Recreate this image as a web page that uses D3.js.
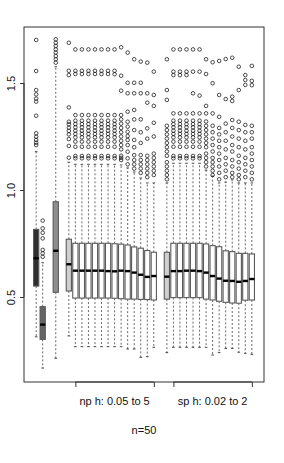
<!DOCTYPE html>
<html>
<head>
<meta charset="utf-8">
<script src="https://cdn.jsdelivr.net/npm/d3@7"></script>
<style>
  html, body { margin: 0; padding: 0; background: #fff; }
  svg { display: block; font-family: "Liberation Sans", Arial, Helvetica, sans-serif; }
</style>
</head>
<body>
<svg id="chart" width="284" height="463"></svg>
<script>
// ---- data ----
const slots = [1, 2, 4, 6, 7, 8, 9, 10, 11, 12, 13, 14, 15, 16, 17, 18, 19,
               21, 22, 23, 24, 25, 26, 27, 28, 29, 30, 31, 32, 33, 34];
const fillGroup = ["a", "b", "c", "d", "w", "w", "w", "w", "w", "w", "w", "w", "w", "w", "w", "w", "w",
                   "d", "w", "w", "w", "w", "w", "w", "w", "w", "w", "w", "w", "w", "w"];
const whiskerLow = [0.314, 0.168, 0.214, 0.318, 0.268, 0.268, 0.268, 0.268, 0.268, 0.268, 0.268, 0.268, 0.257, 0.257, 0.218, 0.221, 0.265,
                    0.240, 0.265, 0.265, 0.265, 0.265, 0.265, 0.265, 0.229, 0.240, 0.260, 0.260, 0.242, 0.237, 0.232];
const q1 = [0.551, 0.302, 0.522, 0.528, 0.495, 0.495, 0.495, 0.495, 0.495, 0.495, 0.494, 0.492, 0.490, 0.490, 0.489, 0.488, 0.486,
            0.490, 0.497, 0.497, 0.497, 0.497, 0.497, 0.490, 0.486, 0.480, 0.475, 0.472, 0.471, 0.485, 0.486];
const median = [0.681, 0.371, 0.716, 0.653, 0.623, 0.623, 0.623, 0.623, 0.623, 0.621, 0.620, 0.623, 0.621, 0.614, 0.604, 0.594, 0.598,
                0.595, 0.621, 0.621, 0.623, 0.623, 0.621, 0.614, 0.598, 0.586, 0.576, 0.575, 0.571, 0.575, 0.584];
const q3 = [0.816, 0.455, 0.945, 0.770, 0.751, 0.751, 0.751, 0.751, 0.751, 0.751, 0.749, 0.747, 0.743, 0.734, 0.728, 0.717, 0.709,
            0.709, 0.751, 0.751, 0.751, 0.751, 0.751, 0.748, 0.740, 0.735, 0.716, 0.712, 0.704, 0.704, 0.701];
const whiskerHigh = [1.179, 0.660, 1.576, 1.130, 1.120, 1.120, 1.120, 1.120, 1.120, 1.120, 1.120, 1.117, 1.103, 1.084, 1.056, 1.033, 1.033,
                     1.033, 1.125, 1.125, 1.125, 1.125, 1.125, 1.093, 1.065, 1.033, 1.037, 1.047, 1.033, 1.033, 1.033];
const npCluster = [1.657, 1.557, 1.542, 1.350, 1.324, 1.308, 1.293, 1.277, 1.262, 1.246, 1.226, 1.202, 1.159, 1.148];
const outliers = [
  [1.701, 1.556, 1.467, 1.447, 1.427, 1.413, 1.347, 1.265, 1.249, 1.234, 1.221, 1.210],
  [0.857, 0.821, 0.800, 0.774, 0.720, 0.704, 0.688],
  [1.704, 1.688, 1.673, 1.657, 1.642, 1.626, 1.611, 1.595],
  [1.688, 1.557, 1.537, 1.386, 1.319, 1.307, 1.291, 1.276, 1.260, 1.238, 1.206, 1.151],
  npCluster, npCluster, npCluster, npCluster, npCluster, npCluster,
  [1.657, 1.557, 1.541, 1.350, 1.324, 1.308, 1.293, 1.277, 1.262, 1.246, 1.226, 1.202, 1.159, 1.148],
  [1.667, 1.534, 1.464, 1.350, 1.330, 1.310, 1.290, 1.270, 1.250, 1.230, 1.210, 1.190, 1.160, 1.150, 1.140],
  [1.642, 1.501, 1.452, 1.366, 1.319, 1.296, 1.272, 1.252, 1.234, 1.210, 1.179, 1.148, 1.120],
  [1.611, 1.501, 1.452, 1.374, 1.330, 1.280, 1.234, 1.200, 1.163, 1.140, 1.120, 1.100],
  [1.600, 1.501, 1.452, 1.330, 1.270, 1.220, 1.163, 1.140, 1.120, 1.100, 1.080],
  [1.595, 1.452, 1.408, 1.288, 1.240, 1.160, 1.140, 1.120, 1.100, 1.080, 1.060],
  [1.553, 1.444, 1.393, 1.314, 1.250, 1.170, 1.150, 1.130, 1.110, 1.090, 1.070],
  [1.611, 1.467, 1.421, 1.300, 1.280, 1.260, 1.240, 1.220, 1.200, 1.180, 1.160, 1.130, 1.110, 1.090, 1.070, 1.050],
  [1.657, 1.553, 1.537, 1.358, 1.324, 1.308, 1.293, 1.277, 1.262, 1.246, 1.226, 1.202, 1.159, 1.148],
  [1.657, 1.553, 1.537, 1.358, 1.324, 1.308, 1.293, 1.277, 1.262, 1.246, 1.226, 1.202, 1.159, 1.148],
  [1.657, 1.553, 1.537, 1.358, 1.324, 1.308, 1.293, 1.277, 1.262, 1.246, 1.226, 1.202, 1.159, 1.148],
  [1.657, 1.553, 1.452, 1.358, 1.324, 1.308, 1.293, 1.277, 1.262, 1.246, 1.226, 1.202, 1.159, 1.148],
  [1.657, 1.553, 1.441, 1.358, 1.324, 1.308, 1.293, 1.277, 1.262, 1.246, 1.226, 1.202, 1.159, 1.148],
  [1.611, 1.542, 1.393, 1.358, 1.320, 1.300, 1.280, 1.260, 1.240, 1.220, 1.200, 1.170, 1.150, 1.130, 1.110],
  [1.597, 1.499, 1.358, 1.300, 1.270, 1.240, 1.210, 1.180, 1.150, 1.130, 1.110, 1.090, 1.070],
  [1.603, 1.444, 1.342, 1.290, 1.260, 1.230, 1.200, 1.170, 1.140, 1.110, 1.080, 1.050],
  [1.612, 1.425, 1.310, 1.270, 1.230, 1.190, 1.150, 1.120, 1.090, 1.060],
  [1.618, 1.436, 1.416, 1.327, 1.290, 1.250, 1.210, 1.180, 1.140, 1.110, 1.080, 1.060],
  [1.576, 1.467, 1.319, 1.280, 1.240, 1.200, 1.160, 1.130, 1.100, 1.070, 1.050],
  [1.537, 1.514, 1.491, 1.304, 1.270, 1.230, 1.190, 1.150, 1.120, 1.090, 1.060],
  [1.580, 1.510, 1.490, 1.300, 1.270, 1.240, 1.200, 1.170, 1.140, 1.110, 1.080, 1.050]
];
const yTicks = [0.5, 1.0, 1.5];
const groupLabels = ["np h: 0.05 to 5", "sp h: 0.02 to 2"];
const groupFrom = [7, 22];
const groupTo = [19, 34];
const subtitle = "n=50";

// ---- layout ----
const svg = d3.select("#chart");
const plot = { left: 24, right: 264, top: 27, bottom: 382 };
const nSlots = 34;
const ext = (nSlots) * 0.04;
const x = d3.scaleLinear().domain([0.5 - ext, nSlots + 0.5 + ext]).range([plot.left, plot.right]);
const y = d3.scaleLinear().domain([0.5, 1.5]).range([297, 83]);
const fill = d3.scaleOrdinal().domain(["a", "b", "c", "d", "w"])
  .range(["#2e2e2e", "#646464", "#8e8e8e", "#cfcfcf", "#ffffff"]);
const half = (x(1.4) - x(1));  // box half width (0.4 units)
const staple = (x(1.2) - x(1));

const boxes = slots.map((s, i) => ({
  s, g: fillGroup[i], lo: whiskerLow[i], q1: q1[i], med: median[i], q3: q3[i], hi: whiskerHigh[i], out: outliers[i]
}));

const g = svg.append("g");
const bg = g.selectAll("g.box").data(boxes).join("g").attr("class", "box");

// whiskers (dashed)
bg.append("line")
  .attr("x1", d => x(d.s)).attr("x2", d => x(d.s))
  .attr("y1", d => y(d.q3)).attr("y2", d => y(d.hi))
  .attr("stroke", "#444").attr("stroke-width", 0.8).attr("stroke-dasharray", "2,2");
bg.append("line")
  .attr("x1", d => x(d.s)).attr("x2", d => x(d.s))
  .attr("y1", d => y(d.q1)).attr("y2", d => y(d.lo))
  .attr("stroke", "#444").attr("stroke-width", 0.8).attr("stroke-dasharray", "2,2");
// staples
bg.append("line")
  .attr("x1", d => x(d.s) - staple).attr("x2", d => x(d.s) + staple)
  .attr("y1", d => y(d.hi)).attr("y2", d => y(d.hi))
  .attr("stroke", "#333").attr("stroke-width", 0.9);
bg.append("line")
  .attr("x1", d => x(d.s) - staple).attr("x2", d => x(d.s) + staple)
  .attr("y1", d => y(d.lo)).attr("y2", d => y(d.lo))
  .attr("stroke", "#333").attr("stroke-width", 0.9);
// boxes
bg.append("rect")
  .attr("x", d => x(d.s) - half).attr("width", 2 * half)
  .attr("y", d => y(d.q3)).attr("height", d => y(d.q1) - y(d.q3))
  .attr("fill", d => fill(d.g)).attr("stroke", "#5a5a5a").attr("stroke-width", 1.1);
// medians
bg.append("line")
  .attr("x1", d => x(d.s) - half).attr("x2", d => x(d.s) + half)
  .attr("y1", d => y(d.med)).attr("y2", d => y(d.med))
  .attr("stroke", "#000").attr("stroke-width", 2.4);
// outliers
bg.selectAll("circle").data(d => d.out.map(v => ({ s: d.s, v }))).join("circle")
  .attr("cx", d => x(d.s)).attr("cy", d => y(d.v)).attr("r", 1.8)
  .attr("fill", "none").attr("stroke", "#111").attr("stroke-width", 0.75);

// frame
svg.append("rect")
  .attr("x", plot.left).attr("y", plot.top)
  .attr("width", plot.right - plot.left).attr("height", plot.bottom - plot.top)
  .attr("fill", "none").attr("stroke", "#333").attr("stroke-width", 1);

// y axis
const yAxis = d3.axisLeft(y).tickValues(yTicks).tickSize(4).tickSizeOuter(0).tickPadding(0).tickFormat(d3.format(".1f"));
const ya = svg.append("g").attr("transform", `translate(${plot.left},0)`).call(yAxis);
ya.select(".domain").attr("d", `M0,${y(0.5)}V${y(1.5)}`).attr("stroke", "#333");
ya.selectAll(".tick line").attr("stroke", "#333");
ya.selectAll(".tick text")
  .attr("x", 0).attr("dy", 0)
  .attr("transform", "translate(-9.5,0) rotate(-90)")
  .attr("text-anchor", "middle")
  .attr("font-size", 11).attr("fill", "#111")
  .attr("font-family", "Liberation Sans, Arial, sans-serif");

// bottom group axes (line only between the end ticks, as in R's axis())
groupLabels.forEach((lab, i) => {
  const xa = d3.axisBottom(x).tickValues([groupFrom[i], groupTo[i]]).tickSize(5).tickSizeOuter(0).tickFormat("");
  const a = svg.append("g").attr("transform", `translate(0,${plot.bottom})`).call(xa);
  a.select(".domain").attr("d", `M${x(groupFrom[i])},0H${x(groupTo[i])}`);
  a.selectAll("path,line").attr("stroke", "#333");
  svg.append("text")
    .attr("x", x((groupFrom[i] + groupTo[i]) / 2)).attr("y", 404.5)
    .attr("text-anchor", "middle").attr("font-size", 11).attr("fill", "#111")
    .text(lab);
});

svg.append("text")
  .attr("x", (plot.left + plot.right) / 2).attr("y", 434)
  .attr("text-anchor", "middle").attr("font-size", 11).attr("fill", "#111")
  .text(subtitle);
</script>
</body>
</html>
